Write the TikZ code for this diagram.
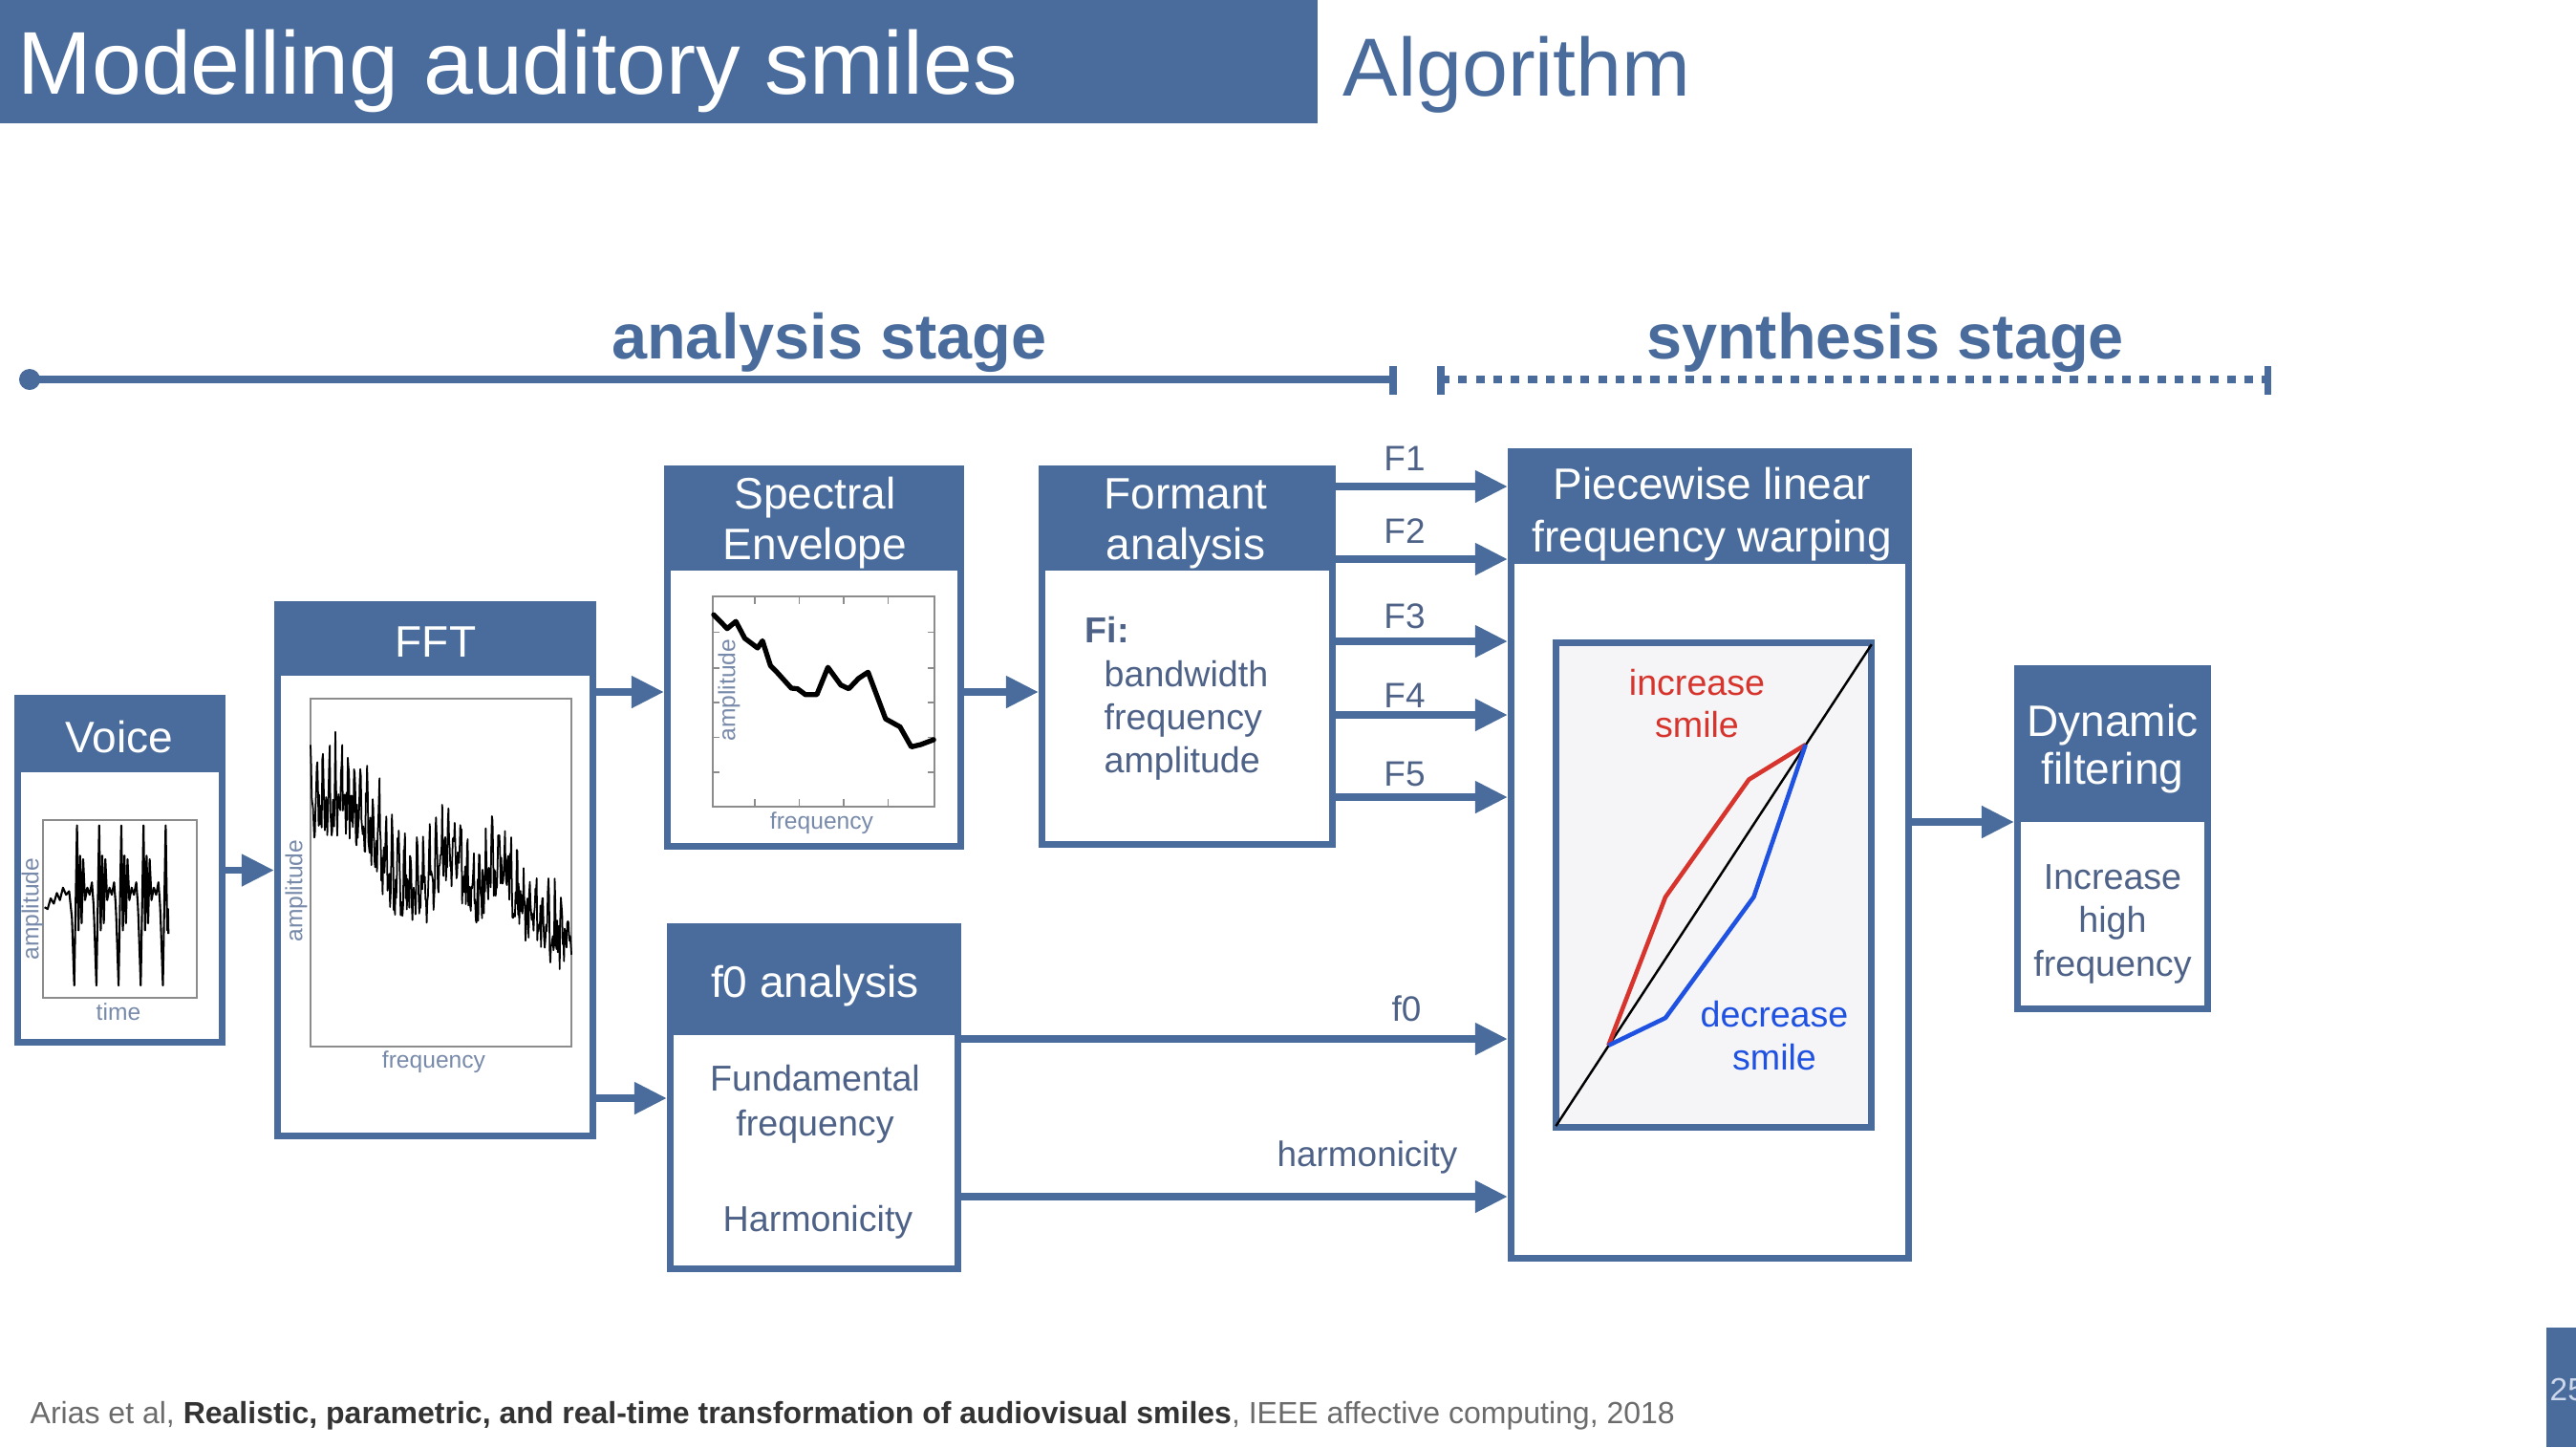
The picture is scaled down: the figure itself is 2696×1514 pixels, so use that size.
\documentclass[tikz,border=0pt]{standalone}
\usepackage{fontspec}
\setmainfont{Liberation Sans}
\usetikzlibrary{arrows.meta}
\definecolor{slide}{RGB}{74,108,156}
\definecolor{txtblue}{RGB}{78,98,136}
\definecolor{axislbl}{RGB}{120,138,170}
\definecolor{smred}{RGB}{214,52,44}
\definecolor{smblue}{RGB}{32,82,226}
\definecolor{plotbg}{RGB}{245,245,247}
\definecolor{pagenum}{RGB}{205,215,235}

\begin{document}
\begin{tikzpicture}[x=0.01cm, y=-0.01cm,
  box/.style={draw=slide, line width=2pt, fill=white, rectangle, inner sep=0pt},
  hdr/.style={text=white, font=\fontsize{13.1}{15.7}\selectfont, anchor=base, inner sep=0pt},
  body/.style={text=txtblue, font=\fontsize{10.7}{12.8}\selectfont, anchor=base, inner sep=0pt},
  lbl/.style={text=txtblue, font=\fontsize{10.5}{12.6}\selectfont, anchor=base, inner sep=0pt},
  axislabel/.style={text=axislbl, font=\fontsize{7}{8.4}\selectfont, inner sep=0pt},
  arr/.style={draw=slide, line width=2.2pt, -{Triangle[length=0.34cm, width=0.32cm]}},
  plotframe/.style={draw=black!45, line width=0.5pt},
  stage/.style={text=slide, font=\bfseries\fontsize{18.95}{22}\selectfont, anchor=base, inner sep=0pt},
  stageline/.style={draw=slide, line width=2pt},
]
\useasboundingbox (0,0) rectangle (2696,1514);

% ---------- title bar ----------
\fill[slide] (0,0) rectangle (1379,129);
\node[anchor=base west, inner sep=0pt, text=white, font=\fontsize{26.5}{30}\selectfont] (title) at (18,98) {Modelling auditory smiles};
\node[anchor=base west, inner sep=0pt, text=slide, font=\fontsize{24.5}{28}\selectfont] (subtitle) at (1405,100) {Algorithm};

% ---------- stage rulers ----------
\node[stage] (anst) at (868,375) {analysis stage};
\node[stage] (synst) at (1973,375) {synthesis stage};
\coordinate (aL) at (31,397);
\coordinate (aR) at (1458,397);
\coordinate (sL) at (1508,397);
\coordinate (sR) at (2373,397);
\fill[slide] (aL) circle (0.11cm);
\draw[stageline] (aL) -- (aR);
\draw[stageline] (1458,383) -- (1458,413);
\draw[stageline, dash pattern=on 2.6pt off 2.6pt] (sL) -- (sR);
\draw[stageline] (1508,383) -- (1508,413);
\draw[stageline] (2373,383) -- (2373,413);

% ---------- header levels ----------
\coordinate (hV) at (0,808);
\coordinate (hFFT) at (0,707);
\coordinate (hSE) at (0,597);
\coordinate (hFA) at (0,597);
\coordinate (hF0) at (0,1083);
\coordinate (hPW) at (0,590);
\coordinate (hDF) at (0,860);

% ---------- boxes ----------
\node[box, minimum width=2.14cm, minimum height=3.60cm] (voice) at (125.5,910.5) {};
\fill[slide] (voice.north west) rectangle (voice.east |- hV);
\node[hdr] (voiceT) at (125,787) {Voice};

\node[box, minimum width=3.30cm, minimum height=5.56cm] (fft) at (455.5,910.5) {};
\fill[slide] (fft.north west) rectangle (fft.east |- hFFT);
\node[hdr] (fftT) at (456,687) {FFT};

\node[box, minimum width=3.07cm, minimum height=3.95cm] (spec) at (852,688) {};
\fill[slide] (spec.north west) rectangle (spec.east |- hSE);
\node[hdr] (specT1) at (853,532) {Spectral};
\node[hdr] (specT2) at (853,585) {Envelope};

\node[box, minimum width=3.04cm, minimum height=3.93cm] (form) at (1242.5,687) {};
\fill[slide] (form.north west) rectangle (form.east |- hFA);
\node[hdr] (formT1) at (1241,532) {Formant};
\node[hdr] (formT2) at (1241,585) {analysis};
\node[body, anchor=base west] (fi) at (1135,672) {\bfseries Fi:};
\node[body, anchor=base west] (fiA) at (1155,718) {bandwidth};
\node[body, anchor=base west] (fiB) at (1155,763) {frequency};
\node[body, anchor=base west] (fiC) at (1155,808) {amplitude};

\node[box, minimum width=3.01cm, minimum height=3.58cm] (f0b) at (852,1148.5) {};
\fill[slide] (f0b.north west) rectangle (f0b.east |- hF0);
\node[hdr] (f0T) at (853,1043) {f0 analysis};
\node[body] (f0A) at (853,1141) {Fundamental};
\node[body] (f0B) at (853,1188) {frequency};
\node[body] (f0C) at (856,1288) {Harmonicity};

\node[box, minimum width=4.16cm, minimum height=8.44cm] (pw) at (1789.5,894.5) {};
\fill[slide] (pw.north west) rectangle (pw.east |- hPW);
\node[hdr] (pwT1) at (1792,522) {Piecewise linear};
\node[hdr] (pwT2) at (1792,577) {frequency warping};

\node[box, minimum width=1.99cm, minimum height=3.56cm] (dyn) at (2211,877.5) {};
\fill[slide] (dyn.north west) rectangle (dyn.east |- hDF);
\node[hdr] (dynT1) at (2211,770) {Dynamic};
\node[hdr] (dynT2) at (2211,820) {filtering};
\node[body] (dynA) at (2211,930) {Increase};
\node[body] (dynB) at (2211,975) {high};
\node[body] (dynC) at (2211,1021) {frequency};

% ---------- voice waveform ----------
\draw[plotframe] (45,858) rectangle (206,1044);
\node[axislabel] (vTime) at (124,1059) {time};
\node[axislabel, rotate=90] (vAmp) at (34,951) {amplitude};
\begin{scope}[shift={(45,858)}, x=1.61cm, y=-1.86cm]
\draw[black, line width=0.6pt, line join=round] plot coordinates {
 (0.01,0.49) (0.03,0.50) (0.05,0.44) (0.07,0.47) (0.09,0.41) (0.11,0.45) (0.13,0.38) (0.15,0.42) (0.17,0.40)
 (0.188,0.55) (0.203,0.93) (0.221,0.03) (0.231,0.62) (0.241,0.20) (0.251,0.58) (0.261,0.22) (0.273,0.45) (0.288,0.38) (0.303,0.42) (0.318,0.35) (0.328,0.47)
 (0.332,0.55) (0.347,0.93) (0.365,0.03) (0.375,0.62) (0.385,0.20) (0.395,0.58) (0.405,0.22) (0.417,0.45) (0.432,0.38) (0.447,0.42) (0.462,0.35) (0.472,0.47)
 (0.476,0.55) (0.491,0.93) (0.509,0.03) (0.519,0.62) (0.529,0.20) (0.539,0.58) (0.549,0.22) (0.561,0.45) (0.576,0.38) (0.591,0.42) (0.606,0.35) (0.616,0.47)
 (0.620,0.55) (0.635,0.93) (0.653,0.03) (0.663,0.62) (0.673,0.20) (0.683,0.58) (0.693,0.22) (0.705,0.45) (0.720,0.38) (0.735,0.42) (0.750,0.35) (0.760,0.47)
 (0.764,0.55) (0.779,0.93) (0.797,0.03) (0.807,0.62) (0.812,0.50) (0.815,0.64)};
\end{scope}

% ---------- FFT spectrum ----------
\draw[plotframe] (325,731) rectangle (598,1095);
\node[axislabel] (fFreq) at (454,1111) {frequency};
\node[axislabel, rotate=90] (fAmp) at (310,932) {amplitude};
\pgfmathsetseed{11}
\begin{scope}[shift={(325,731)}, x=2.73cm, y=-3.64cm]
\draw[black, line width=0.5pt, line join=round] plot[domain=0:1, samples=420]
 (\x, {0.34 + 0.24/(1+exp(-30*(\x-0.26))) + 0.55*max(\x-0.72,0)
   - 0.12*exp(-1*((\x-0.53)/0.05)*((\x-0.53)/0.05))
   - 0.10*exp(-1*((\x-0.73)/0.05)*((\x-0.73)/0.05))
   + 0.075*rand - 0.21*(1-0.5*\x)*abs(cos(deg(pi*\x/0.024)))^10});
\end{scope}

% ---------- spectral envelope ----------
\node[axislabel] (sFreq) at (860,861) {frequency};
\begin{scope}[shift={(746,624)}, x=2.32cm, y=-2.20cm]
\draw[plotframe] (0,0) rectangle (1,1);
\foreach \t in {0.19,0.39,0.59,0.79} {
  \draw[plotframe] (\t,0) -- (\t,0.035);
  \draw[plotframe] (\t,1) -- (\t,0.965);
}
\foreach \t in {0.17,0.34,0.505,0.67,0.835} {
  \draw[plotframe] (0,\t) -- (0.03,\t);
  \draw[plotframe] (1,\t) -- (0.97,\t);
}
\draw[black, line width=1.5pt, line join=round, line cap=round] plot coordinates {
 (0.004,0.087) (0.065,0.153) (0.104,0.119) (0.144,0.199) (0.202,0.245) (0.224,0.211)
 (0.260,0.329) (0.289,0.360) (0.354,0.436) (0.382,0.439) (0.418,0.467) (0.469,0.467)
 (0.519,0.337) (0.577,0.421) (0.613,0.439) (0.657,0.390) (0.700,0.360) (0.779,0.582)
 (0.844,0.620) (0.895,0.715) (0.938,0.704) (0.996,0.681)};
\end{scope}
\node[axislabel, rotate=90] (sAmp) at (763,722) {amplitude};

% ---------- warping plot ----------
\draw[draw=slide, line width=2pt, fill=plotbg] (1628.5,672.5) rectangle (1958.5,1179.5);
\begin{scope}[shift={(1625,669)}, x=3.37cm, y=-5.14cm]
\draw[black, line width=0.7pt] (0.01,0.99) -- (0.99,0.01);
\draw[smred, line width=1.3pt, line join=round] (0.173,0.826) -- (0.35,0.524) -- (0.609,0.285) -- (0.785,0.214);
\draw[smblue, line width=1.3pt, line join=round] (0.173,0.826) -- (0.35,0.770) -- (0.624,0.524) -- (0.785,0.214);
\end{scope}
\node[body, text=smred] (inc1) at (1776,727) {increase};
\node[body, text=smred] (inc2) at (1776,771) {smile};
\node[body, text=smblue] (dec1) at (1857,1074) {decrease};
\node[body, text=smblue] (dec2) at (1857,1119) {smile};

% ---------- connectors ----------
\coordinate (yFS) at (0,724);
\coordinate (yFf) at (0,1149);
\coordinate (y1) at (0,509);
\coordinate (y2) at (0,585);
\coordinate (y3) at (0,671);
\coordinate (y4) at (0,748);
\coordinate (y5) at (0,834);
\coordinate (yf0) at (0,1087);
\coordinate (yh) at (0,1252);
\coordinate (yD) at (0,860);

\draw[arr] (voice) -- (fft);
\draw[arr] (fft.east |- yFS) -- (spec.west |- yFS);
\draw[arr] (fft.east |- yFf) -- (f0b.west |- yFf);
\draw[arr] (spec.east |- yFS) -- (form.west |- yFS);
\draw[arr] (form.east |- y1) -- (pw.west |- y1);
\draw[arr] (form.east |- y2) -- (pw.west |- y2);
\draw[arr] (form.east |- y3) -- (pw.west |- y3);
\draw[arr] (form.east |- y4) -- (pw.west |- y4);
\draw[arr] (form.east |- y5) -- (pw.west |- y5);
\draw[arr] (f0b.east |- yf0) -- (pw.west |- yf0);
\draw[arr] (f0b.east |- yh) -- (pw.west |- yh);
\draw[arr] (pw.east |- yD) -- (dyn.west |- yD);

\node[lbl] (lF1) at (1470,492) {F1};
\node[lbl] (lF2) at (1470,568) {F2};
\node[lbl] (lF3) at (1470,657) {F3};
\node[lbl] (lF4) at (1470,740) {F4};
\node[lbl] (lF5) at (1470,822) {F5};
\node[lbl] (lf0) at (1472,1068) {f0};
\node[lbl] (lharm) at (1431,1220) {harmonicity};

% ---------- footer ----------
\node[anchor=base west, inner sep=0pt, text=black!58, font=\fontsize{9.1}{10.9}\selectfont] (ref) at (31,1489)
  {Arias et al, \textcolor{black!80}{\bfseries Realistic, parametric, and real-time transformation of audiovisual smiles}, IEEE affective computing, 2018};
\fill[slide] (2665,1389) rectangle (2696,1514);
\node[anchor=base west, inner sep=0pt, text=pagenum, font=\fontsize{9.5}{11}\selectfont] (pnum) at (2668,1465) {25};
\end{tikzpicture}
\end{document}
